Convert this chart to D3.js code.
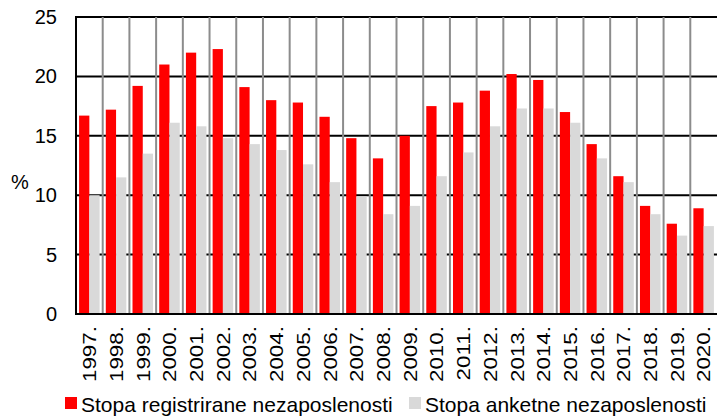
<!DOCTYPE html>
<html>
<head>
<meta charset="utf-8">
<script src="https://cdn.jsdelivr.net/npm/d3@7"></script>
<style>
  body { margin: 0; background: #fff; }
  svg { display: block; font-family: "Liberation Sans", Arial, sans-serif; }
</style>
</head>
<body>
<svg id="chart"></svg>
<script>
// data
let years = ['1997.', '1998.', '1999.', '2000.', '2001.', '2002.', '2003.', '2004.', '2005.', '2006.', '2007.', '2008.',
             '2009.', '2010.', '2011.', '2012.', '2013.', '2014.', '2015.', '2016.', '2017.', '2018.', '2019.', '2020.']
let registered = [16.7, 17.2, 19.2, 21.0, 22.0, 22.3, 19.1, 18.0, 17.8, 16.6, 14.8, 13.1,
                  15.0, 17.5, 17.8, 18.8, 20.2, 19.7, 17.0, 14.3, 11.6, 9.1, 7.6, 8.9]
let survey = [10.0, 11.5, 13.5, 16.1, 15.8, 14.8, 14.3, 13.8, 12.6, 11.1, 9.9, 8.4,
              9.1, 11.6, 13.6, 15.8, 17.3, 17.3, 16.1, 13.1, 11.1, 8.4, 6.6, 7.4]
let seriesNames = ['Stopa registrirane nezaposlenosti', 'Stopa anketne nezaposlenosti']
let seriesColors = ['#ff0000', '#d9d9d9']
let yTicks = [0, 5, 10, 15, 20, 25]

let w = 717, h = 416
let m = {t: 17, r: 0, b: 102, l: 76}

let svg = d3.select('#chart').attr('width', w).attr('height', h)

let x = d3.scaleBand().domain(years).range([m.l, w - m.r]).padding(0)
let xs = d3.scaleBand().domain(seriesNames).range([0, x.bandwidth()]).paddingInner(0).paddingOuter(0.3)
let y = d3.scaleLinear().domain([0, 25]).range([h - m.b, m.t])

// horizontal grid (black)
svg.append('g')
    .selectAll('line')
    .data(yTicks)
    .join('line')
    .attr('x1', m.l).attr('x2', w - m.r)
    .attr('y1', d => y(d)).attr('y2', d => y(d))
    .attr('stroke', '#000')
    .attr('stroke-width', 2)

// vertical grid between categories (gray)
svg.append('g')
    .selectAll('line')
    .data(years.slice(1))
    .join('line')
    .attr('x1', d => x(d)).attr('x2', d => x(d))
    .attr('y1', m.t).attr('y2', h - m.b)
    .attr('stroke', '#8c8c8c')
    .attr('stroke-width', 2)

// bars
let rows = years.map((yr, i) => ({year: yr, vals: [registered[i], survey[i]]}))
let groups = svg.append('g')
    .selectAll('g')
    .data(rows)
    .join('g')
    .attr('transform', d => `translate(${x(d.year)},0)`)

groups.selectAll('rect')
    .data(d => d.vals.map((v, j) => ({name: seriesNames[j], v, c: seriesColors[j]})))
    .join('rect')
    .attr('x', d => xs(d.name))
    .attr('width', xs.bandwidth())
    .attr('y', d => y(d.v))
    .attr('height', d => y(0) - y(d.v))
    .attr('fill', d => d.c)

// frame: left and bottom axis lines
svg.append('line')
    .attr('x1', m.l).attr('x2', m.l)
    .attr('y1', m.t - 1).attr('y2', h - m.b + 1)
    .attr('stroke', '#000').attr('stroke-width', 2)
svg.append('line')
    .attr('x1', m.l).attr('x2', w)
    .attr('y1', h - m.b).attr('y2', h - m.b)
    .attr('stroke', '#000').attr('stroke-width', 2)

// y axis labels
let yAxis = svg.append('g')
    .attr('transform', `translate(${m.l}, 0)`)
    .call(d3.axisLeft(y).tickValues(yTicks).tickSize(0).tickPadding(19))
yAxis.select('.domain').remove()
yAxis.selectAll('text')
    .attr('font-family', '"Liberation Sans", Arial, sans-serif')
    .attr('font-size', 20)
    .attr('fill', '#000')

svg.append('text')
    .attr('x', 20).attr('y', 189)
    .attr('text-anchor', 'middle')
    .attr('font-size', 20)
    .text('%')

// x axis labels, rotated
let xAxis = svg.append('g')
    .attr('transform', `translate(0, ${h - m.b})`)
    .call(d3.axisBottom(x).tickSize(0).tickPadding(0))
xAxis.select('.domain').remove()
xAxis.selectAll('text')
    .attr('font-family', '"Liberation Sans", Arial, sans-serif')
    .attr('font-size', 19)
    .attr('fill', '#000')
    .attr('text-anchor', 'end')
    .attr('transform', 'translate(0, 12) rotate(-90) scale(1.18, 1)')
    .attr('x', 0).attr('y', 0)
    .attr('dy', '0.36em')

// legend
let legendX = [65, 409]
let legend = svg.append('g')
    .selectAll('g')
    .data(seriesNames)
    .join('g')
    .attr('transform', (d, i) => `translate(${legendX[i]}, 397)`)
legend.append('rect')
    .attr('width', 12).attr('height', 12)
    .attr('fill', (d, i) => seriesColors[i])
legend.append('text')
    .attr('x', 16).attr('y', 14.5)
    .attr('font-size', 21)
    .text(d => d)
</script>
</body>
</html>
